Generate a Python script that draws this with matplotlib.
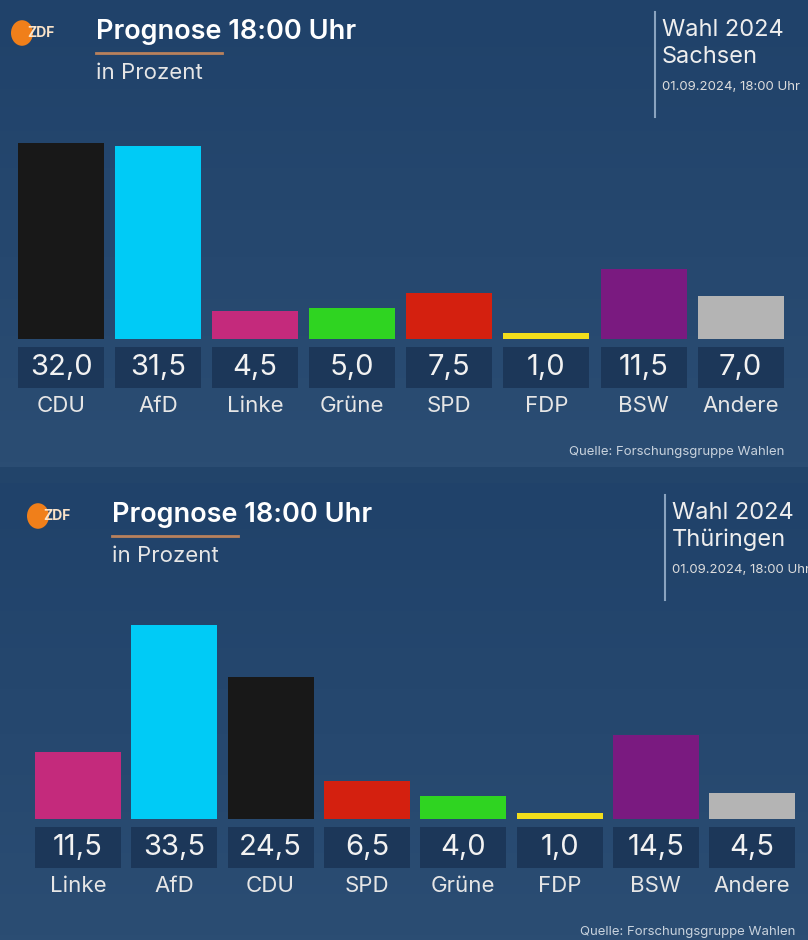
import numpy as np
import matplotlib.pyplot as plt
from matplotlib.patches import Rectangle, Circle
from matplotlib.colors import LinearSegmentedColormap

# Sachsen forecast, 18:00
sn_parties = ['CDU', 'AfD', 'Linke', 'Grüne', 'SPD', 'FDP', 'BSW', 'Andere']
sn_values = [32.0, 31.5, 4.5, 5.0, 7.5, 1.0, 11.5, 7.0]
sn_colors = ['#181818', '#00cbf6', '#c42a7c', '#2fd421', '#d4200f', '#f2de1c', '#7a1a80', '#b4b4b4']

# Thüringen forecast, 18:00
th_parties = ['Linke', 'AfD', 'CDU', 'SPD', 'Grüne', 'FDP', 'BSW', 'Andere']
th_values = [11.5, 33.5, 24.5, 6.5, 4.0, 1.0, 14.5, 4.5]
th_colors = ['#c42a7c', '#00cbf6', '#181818', '#d4200f', '#2fd421', '#f2de1c', '#7a1a80', '#b4b4b4']

W, H = 808, 940
fig = plt.figure(figsize=(W / 100, H / 100), dpi=100)
fig.patch.set_facecolor('#22446a')

plt.rcParams['font.family'] = ['Inter', 'DejaVu Sans']

def fy(py):
    return 1 - py / H

def fx(px):
    return px / W

def fmt(v):
    return f'{v:.1f}'.replace('.', ',')

def panel(top, bottom, dx, centers0, spacing, bar_bottom, bar_px, parties, values, colors, land):
    # background with soft vertical gradient
    grad = LinearSegmentedColormap.from_list('bg', ['#20426a', '#2b4d73'])
    bg = fig.add_axes([0, fy(bottom), 1, (bottom - top) / H], zorder=0)
    bg.imshow(np.linspace(0, 1, 100).reshape(-1, 1), aspect='auto', cmap=grad,
              extent=[0, 1, 0, 1], origin='upper')
    bg.axis('off')

    # bars
    ax = fig.add_axes([0, fy(bar_bottom), 1, bar_px / H], zorder=2)
    ax.set_xlim(-centers0 / spacing, (W - centers0) / spacing)
    ax.set_ylim(0, max(values))
    ax.axis('off')
    x = np.arange(len(parties))
    ax.bar(x, values, width=86 / spacing, color=colors)

    # value boxes and party labels
    for i, (p, v) in enumerate(zip(parties, values)):
        xc = fx(centers0 + spacing * i)
        fig.patches.append(Rectangle((xc - 43 / W, fy(bar_bottom + 49)), 86 / W, 41 / H,
                                     transform=fig.transFigure, facecolor='#1c3759',
                                     edgecolor='none', zorder=3))
        fig.text(xc, fy(bar_bottom + 29), fmt(v), color='#f2f2f2', fontsize=21,
                 ha='center', va='center', zorder=4)
        fig.text(xc, fy(bar_bottom + 67), p, color='#e6e6e6', fontsize=16,
                 ha='center', va='center', zorder=4)

    # header
    fig.patches.append(Circle((fx(22 + dx), fy(top + 33)), 11 / W, transform=fig.transFigure,
                              facecolor='#f07f1a', edgecolor='none', zorder=3))
    fig.text(fx(27 + dx), fy(top + 33), 'ZDF', color='#fbe3c8', fontsize=10, fontweight='bold',
             ha='left', va='center', zorder=4)
    fig.text(fx(96 + dx), fy(top + 32), 'Prognose 18:00 Uhr', color='white', fontsize=19.5,
             fontweight='semibold', ha='left', va='center', zorder=4)
    fig.lines.append(plt.Line2D([fx(96 + dx), fx(222 + dx)], [fy(top + 53), fy(top + 53)],
                                transform=fig.transFigure, color='#b9815c', lw=2, zorder=4))
    fig.text(fx(96 + dx), fy(top + 73), 'in Prozent', color='#e6e6e6', fontsize=16,
             ha='left', va='center', zorder=4)
    fig.lines.append(plt.Line2D([fx(655 + dx * 0.6), fx(655 + dx * 0.6)], [fy(top + 12), fy(top + 117)],
                                transform=fig.transFigure, color='#8aa3bf', lw=1.5, zorder=4))
    fig.text(fx(662 + dx * 0.6), fy(top + 30), 'Wahl 2024', color='#eeeeee', fontsize=17,
             ha='left', va='center', zorder=4)
    fig.text(fx(662 + dx * 0.6), fy(top + 57), land, color='#eeeeee', fontsize=17,
             ha='left', va='center', zorder=4)
    fig.text(fx(662 + dx * 0.6), fy(top + 87), '01.09.2024, 18:00 Uhr', color='#dddddd',
             fontsize=9.5, ha='left', va='center', zorder=4)
    fig.text(fx(784 + dx * 0.7), fy(bar_bottom + 113), 'Quelle: Forschungsgruppe Wahlen',
             color='#c8d2dd', fontsize=9.5, ha='right', va='center', zorder=4)
    return ax

panel(0, 467, 0, 61, 97.1, 339, 196, sn_parties, sn_values, sn_colors, 'Sachsen')
panel(483, 940, 16, 78, 96.3, 819, 194, th_parties, th_values, th_colors, 'Thüringen')

fig.savefig('out.png', dpi=100, facecolor=fig.get_facecolor())
